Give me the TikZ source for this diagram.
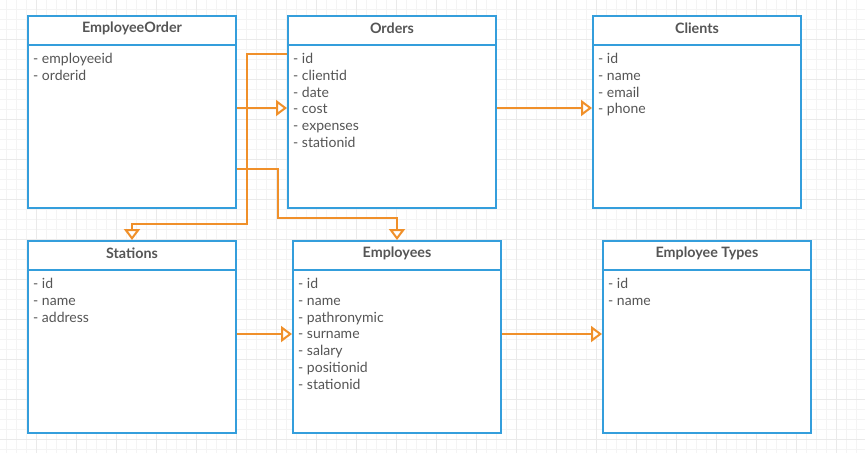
\documentclass[tikz,border=0pt]{standalone}
\usepackage{fontspec}
\setmainfont{Lato}
\usetikzlibrary{arrows.meta,calc}
\definecolor{boxblue}{RGB}{52,158,220}
\definecolor{linkorange}{RGB}{240,144,42}
\definecolor{txt}{RGB}{85,85,85}
\definecolor{gridminor}{RGB}{244,244,244}
\definecolor{gridmajor}{RGB}{234,234,234}
\tikzset{
  cls/.style={draw=boxblue, line width=2pt, minimum width=208pt, minimum height=192pt, anchor=north west, inner sep=0pt, fill=white},
  ttl/.style={font=\fontsize{14.3}{16}\selectfont\bfseries, text=txt, anchor=center, inner sep=0pt},
  attrs/.style={font=\fontsize{14}{16.8}\selectfont, text=txt, anchor=north west, align=left, inner sep=0pt},
  link/.style={draw=linkorange, line width=2pt, -{Triangle[open, fill=white, length=11pt, width=16pt, line width=2pt]}},
}
\newcommand{\umlbox}[5]{%
  \node[cls] (#1) at (#2,#3) {};
  \draw[boxblue, line width=2pt] ($(#1.north west)+(0,30)$) -- ($(#1.north east)+(0,30)$);
  \node[ttl] (#1-t) at ($(#1.north)+(0,13.5)$) {#4};
  \node[attrs] (#1-a) at ($(#1.north west)+(6,38)$) {#5};
}
\begin{document}
\begin{tikzpicture}[x=1pt,y=-1pt]
\useasboundingbox (0,0) rectangle (865,453);
\fill[white] (0,0) rectangle (865,453);
\foreach \i in {0,...,86} {\draw[gridminor, line width=0.8pt] ({6+10*\i},0) -- ({6+10*\i},453);}
\foreach \j in {0,...,44} {\draw[gridminor, line width=0.8pt] (0,{9+10*\j}) -- (865,{9+10*\j});}
\foreach \i in {0,...,21} {\draw[gridmajor, line width=0.8pt] ({36+40*\i},0) -- ({36+40*\i},453);}
\foreach \j in {0,...,11} {\draw[gridmajor, line width=0.8pt] (0,{39+40*\j}) -- (865,{39+40*\j});}

\umlbox{eo}{27}{15}{EmployeeOrder}{- employeeid\\- orderid}
\umlbox{ord}{287}{15}{Orders}{- id\\- clientid\\- date\\- cost\\- expenses\\- stationid}
\umlbox{cli}{592}{15}{Clients}{- id\\- name\\- email\\- phone}
\umlbox{sta}{27}{240}{Stations}{- id\\- name\\- address}
\umlbox{emp}{292}{240}{Employees}{- id\\- name\\- pathronymic\\- surname\\- salary\\- positionid\\- stationid}
\umlbox{ety}{602}{240}{Employee Types}{- id\\- name}

\draw[link] ($(eo.north east)+(0,93)$) -- ($(ord.north west)+(0,93)$);
\draw[link] ($(ord.north east)+(0,93)$) -- ($(cli.north west)+(0,93)$);
\draw[link] ($(sta.north east)+(0,94)$) -- ($(emp.north west)+(0,94)$);
\draw[link] ($(emp.north east)+(0,94)$) -- ($(ety.north west)+(0,94)$);
\draw[link] ($(ord.north west)+(0,39)$) -- ++(-40,0) |- ($(sta.north)+(0,-16)$) -- (sta.north);
\draw[link] ($(eo.north east)+(0,154)$) -- ++(41,0) |- ($(emp.north)+(0,-22)$) -- (emp.north);
\end{tikzpicture}
\end{document}
